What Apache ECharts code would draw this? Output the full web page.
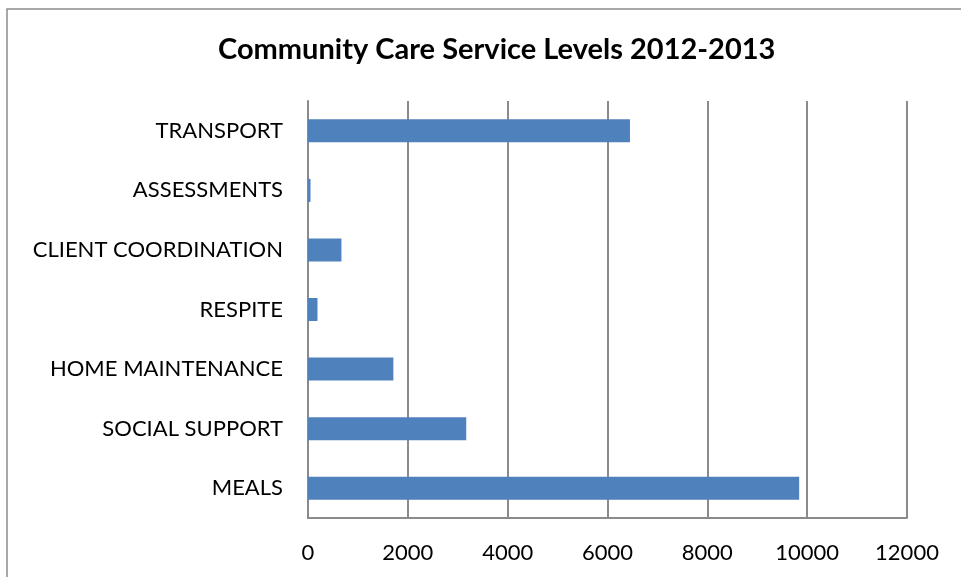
<!DOCTYPE html>
<html>
<head>
<meta charset="utf-8">
<script src="https://cdn.jsdelivr.net/npm/echarts@6/dist/echarts.min.js"></script>
<style>
  html, body { margin: 0; padding: 0; background: #ffffff; }
  #chart { width: 961px; height: 577px; }
</style>
</head>
<body>
<div id="chart"></div>
<script>
// Service categories, bottom to top as drawn on the vertical axis
const categories = [
  'MEALS',
  'SOCIAL SUPPORT',
  'HOME MAINTENANCE',
  'RESPITE',
  'CLIENT COORDINATION',
  'ASSESSMENTS',
  'TRANSPORT'
];
// Service levels for 2012-2013
const serviceLevels = [9840, 3170, 1710, 190, 670, 50, 6450];
const axisMin = 0;
const axisMax = 12000;
const axisStep = 2000;

const chart = echarts.init(document.getElementById('chart'));
const fontFamily = 'Lato, "Open Sans", "Noto Sans", sans-serif';

chart.setOption({
  animation: false,
  backgroundColor: '#ffffff',
  title: {
    text: 'Community Care Service Levels 2012-2013',
    left: 213,
    top: 30,
    textStyle: { fontFamily, fontSize: 29, fontWeight: 'bold', color: '#000000' }
  },
  graphic: [{
    type: 'rect',
    shape: { x: 7, y: 9, width: 1000, height: 1000 },
    style: { fill: 'none', stroke: '#8c8c8c', lineWidth: 1.5 },
    silent: true
  }],
  grid: { left: 308, right: 54, top: 101, bottom: 59, containLabel: false },
  xAxis: {
    type: 'value',
    min: axisMin,
    max: axisMax,
    interval: axisStep,
    axisLine: { show: true, lineStyle: { color: '#8a8a8a', width: 2 } },
    axisTick: { show: false },
    splitLine: { show: true, lineStyle: { color: '#8a8a8a', width: 2 } },
    axisLabel: {
      fontFamily, fontSize: 22, color: '#000000', margin: 24,
      formatter: (v) => String(v)
    }
  },
  yAxis: {
    type: 'category',
    data: categories,
    axisLine: { show: true, lineStyle: { color: '#8a8a8a', width: 2 } },
    axisTick: { show: false },
    splitLine: { show: false },
    axisLabel: { fontFamily, fontSize: 22, color: '#000000', margin: 25 }
  },
  series: [{
    type: 'bar',
    data: serviceLevels,
    barWidth: 23,
    itemStyle: { color: '#4f81bd' }
  }]
});
</script>
</body>
</html>
